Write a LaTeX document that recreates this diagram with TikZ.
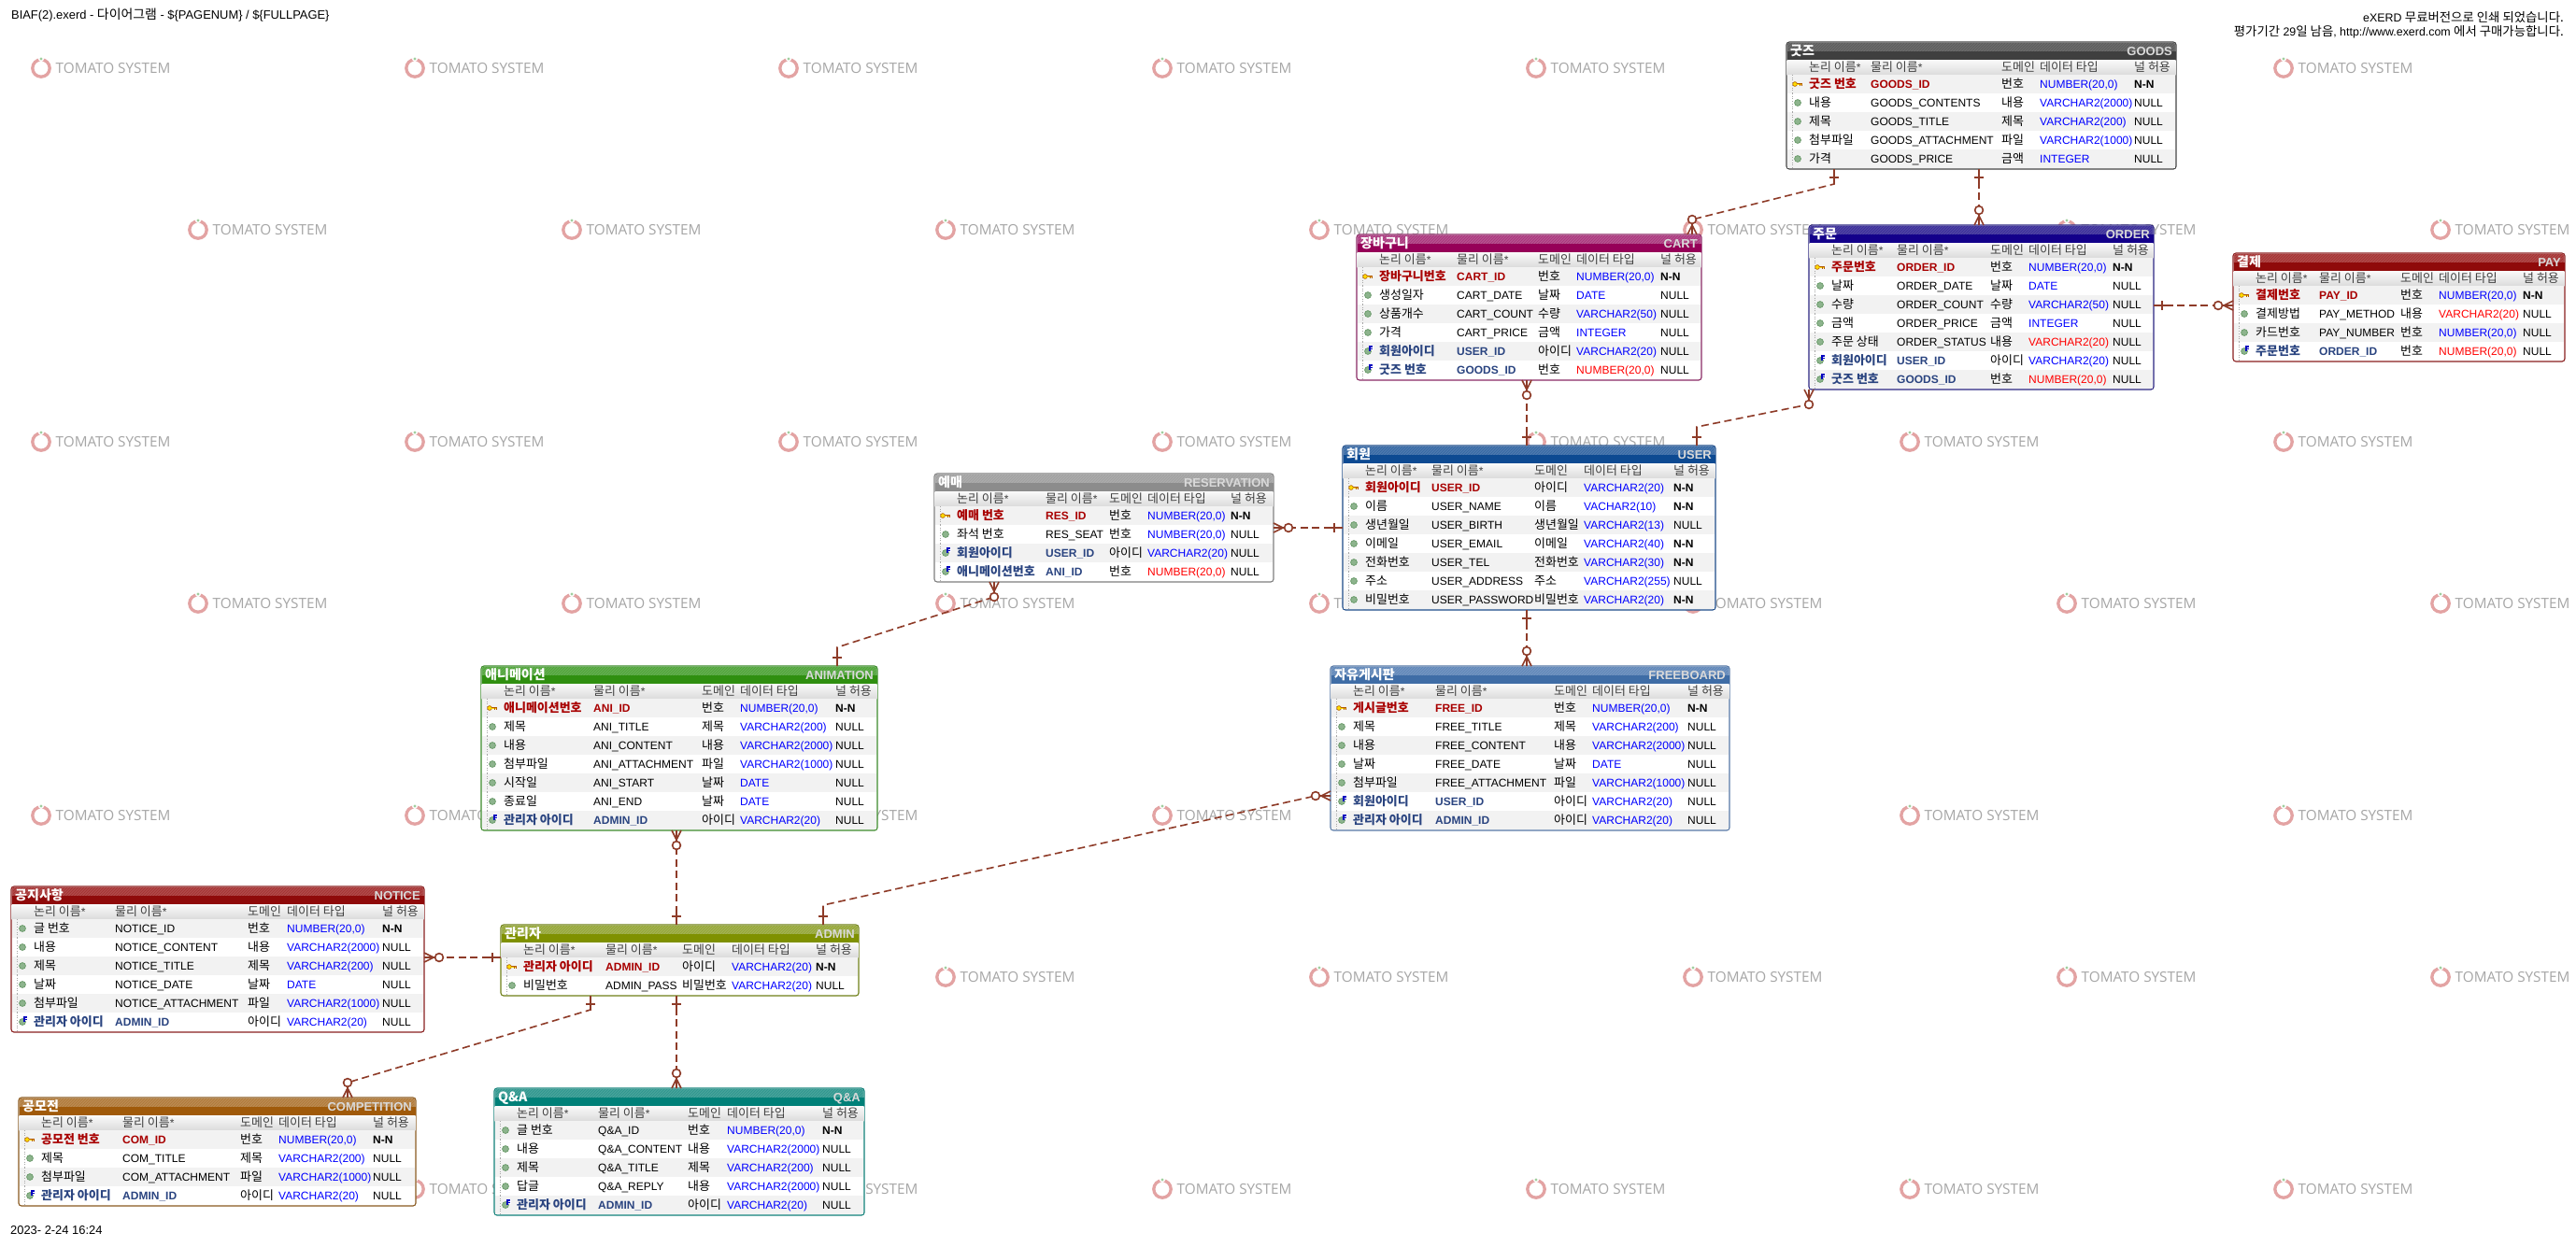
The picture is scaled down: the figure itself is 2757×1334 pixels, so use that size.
\documentclass[tikz,border=0pt]{standalone}
\usepackage{fontspec}
\usetikzlibrary{patterns}
\setmainfont{Liberation Sans}
\newfontfamily\kr[Scale=1.08]{Noto Sans CJK KR}
\newfontfamily\logofont{Open Sans}
\catcode`\_=12

\newcommand{\ercolors}[4]{%
	\definecolor{#1base}{HTML}{#2}\definecolor{#1up}{HTML}{#3}\definecolor{#1line}{HTML}{#4}}
\ercolors{goods}{3F3F3F}{6C6C6C}{444444}
\ercolors{cart}{960058}{B5528F}{8A2A64}
\ercolors{order}{13008A}{4F45A3}{2B2480}
\ercolors{pay}{8F0A0A}{B04A4A}{8A2020}
\ercolors{res}{8C8C8C}{ACACAC}{7E7E7E}
\ercolors{user}{0D4A92}{4C79AE}{1C4A88}
\ercolors{ani}{2F8F10}{62AE50}{3B8A2A}
\ercolors{free}{3F6DA6}{7295C1}{5577A5}
\ercolors{notice}{8F0A0A}{B04A4A}{8A2020}
\ercolors{admin}{7F9100}{A2B252}{6F8018}
\ercolors{comp}{A05A0A}{BA8A52}{8A5A20}
\ercolors{qna}{008078}{48A39B}{108078}
\definecolor{relcolor}{HTML}{8E3B28}
\definecolor{keyred}{HTML}{A80000}
\definecolor{fkblue}{HTML}{2A4480}
\definecolor{ballfill}{HTML}{8DB48D}
\definecolor{balledge}{HTML}{6C9C6C}
\definecolor{ringred}{HTML}{E3A3A3}
\definecolor{ringgreen}{HTML}{9FCF9F}
\definecolor{marktext}{HTML}{A6A6A6}

\tikzset{
	entitybox/.style={rectangle, anchor=north west, inner sep=0, outer sep=0, fill=white, line width=1.1pt, rounded corners=3pt},
	cellat/.style={anchor=base west, inner sep=0, text=black, font=\fontsize{12}{14}\selectfont},
	cellpk/.style={anchor=base west, inner sep=0, text=keyred, font=\fontsize{12}{14}\selectfont\bfseries},
	cellfk/.style={anchor=base west, inner sep=0, text=fkblue, font=\fontsize{12}{14}\selectfont\bfseries},
	celltype/.style={cellat, text=blue},
	cellhead/.style={cellat, text=black!75},
	titleleft/.style={anchor=base west, inner sep=0, text=white, font=\fontsize{13}{15}\selectfont\bfseries},
	titleright/.style={anchor=base east, inner sep=0, text=white!85!black, font=\fontsize{13}{15}\selectfont\bfseries},
	pagetext/.style={inner sep=0, text=black, font=\fontsize{12.9}{15}\selectfont},
	evaltext/.style={pagetext, anchor=base east, font=\fontsize{12.4}{15}\selectfont},
	relline/.style={relcolor, line width=1.6pt, dash pattern=on 8pt off 4.5pt},
	relsolid/.style={relcolor, line width=1.6pt},
	iconat/.pic={\draw[fill=ballfill, draw=balledge, line width=.8pt] (0,0) circle (3.4);},
	iconfk/.pic={
		\draw[fill=ballfill, draw=balledge, line width=.8pt] (0,0) circle (3.4);
		\fill[white] (.6,-.6) rectangle (5.5,-6);
		\draw[blue!75!black, line width=1.1pt] (2,-.4) -- (2,-5) -- (5.2,-5) (2,-2.8) -- (4.6,-2.8);},
	iconpk/.pic={
		\draw[fill=yellow!80!orange, draw=orange!70!black, line width=.6pt] (-3,0) circle (2.4);
		\draw[orange!70!black, line width=1.7pt] (-.6,0) -- (5.4,0);
		\draw[yellow!80!orange, line width=.8pt] (-.6,0) -- (5.2,0);
		\draw[orange!70!black, line width=.8pt] (2.5,0) -- (2.5,1.9) (4.6,0) -- (4.6,1.9);},
	onemark/.pic={
		\draw[relsolid] (0,0) -- (16,0);
		\draw[relsolid] (9,-5) -- (9,5);},
	manymark/.pic={
		\draw[relsolid] (0,-5) -- (10,0) -- (0,5) (0,0) -- (11.5,0);
		\draw[relsolid, fill=white] (16,0) circle (4.4);},
	tomato/.pic={
		\draw[ringred, line width=3.3pt] (0,0) circle (9.2);
		\fill[white] (0,-10) circle (3);
		\fill[ringgreen] (0,-10) circle (1.7);
		\node[anchor=west, inner sep=0, text=marktext, font=\logofont\fontsize{15.3}{17}\selectfont] (-label) at (15.5,.4) {TOMATO SYSTEM};},
}

\newcounter{rowno}
\newcommand{\erdcols}[4]{\def\colP{#1}\def\colD{#2}\def\colT{#3}\def\colN{#4}}
% name, left, top, width, rows, korean title, table name
\newcommand{\erdbox}[7]{
	\def\ename{#1}\def\ex{#2}\def\ey{#3}\def\ew{#4}
	\setcounter{rowno}{0}
	\pgfmathsetmacro\eh{36+20*#5}
	\node[entitybox, draw=#1line, minimum width=#4pt, minimum height=\eh pt] (#1) at (#2,#3) {};
	\fill[#1up, rounded corners=3pt] (\ex+.5,\ey+.5) rectangle (\ex+\ew-.5,\ey+14);
	\fill[pattern=north east lines, pattern color=#1base, opacity=.4] (\ex+2,\ey+1) rectangle (\ex+\ew-2,\ey+10);
	\fill[#1base] (\ex+.5,\ey+9.5) rectangle (\ex+\ew-.5,\ey+19);
	\shade[top color=black!2, bottom color=black!14] (\ex+.6,\ey+19) rectangle (\ex+\ew-.6,\ey+35);
	\node[titleleft] (#1kor) at (\ex+4,\ey+14.6) {\kr #6};
	\node[titleright] (#1eng) at (\ex+\ew-4,\ey+14.6) {#7};
	\node[cellhead] (#1hl) at (\ex+24,\ey+31) {{\kr 논리 이름}*};
	\node[cellhead] (#1hp) at (\ex+\colP,\ey+31) {{\kr 물리 이름}*};
	\node[cellhead] (#1hd) at (\ex+\colD,\ey+31) {\kr 도메인};
	\node[cellhead] (#1ht) at (\ex+\colT,\ey+31) {\kr 데이터 타입};
	\node[cellhead] (#1hn) at (\ex+\colN,\ey+31) {\kr 널 허용};
}
% kind (pk, fk, at), logical name, physical name, domain, type, null
\newcommand{\erdrow}[6]{
	\pgfmathsetmacro\rowtop{\ey+35+20*\the\value{rowno}}
	\ifodd\value{rowno}\else
		\fill[black!5] (\ex+.6,\rowtop) rectangle (\ex+\ew-.6,\rowtop+20);
	\fi
	\draw[black!35, dotted, line width=.7pt] (\ex+6,\rowtop) -- (\ex+6,\rowtop+20);
	\pic at (\ex+12,\rowtop+10) {icon#1};
	\node[cell#1] (\ename l\arabic{rowno}) at (\ex+24,\rowtop+14.3) {\kr #2};
	\node[cell#1] (\ename p\arabic{rowno}) at (\ex+\colP,\rowtop+14.3) {#3};
	\node[cellat] (\ename d\arabic{rowno}) at (\ex+\colD,\rowtop+14.3) {\kr #4};
	\node[celltype] (\ename t\arabic{rowno}) at (\ex+\colT,\rowtop+14.3) {#5};
	\node[cellat] (\ename n\arabic{rowno}) at (\ex+\colN,\rowtop+14.3) {#6};
	\stepcounter{rowno}
}
\newcommand{\rd}[1]{\textcolor{red}{#1}}
\newcommand{\nn}{\textbf{N-N}}

\begin{document}
\begin{tikzpicture}[x=1pt, y=-1pt]
	\useasboundingbox (0,0) rectangle (2757,1334);
	\fill[white] (0,0) rectangle (2757,1334);
	\foreach \my in {73,473,873,1273}
		\foreach \mx in {44,444,...,2444}
			\pic (mark\mx-\my) at (\mx,\my) {tomato};
	\foreach \my in {246,646,1046}
		\foreach \mx in {212,612,...,2612}
			\pic (mark\mx-\my) at (\mx,\my) {tomato};

	\node[pagetext, anchor=base west] (filetitle) at (12,20) {BIAF(2).exerd - {\kr 다이어그램} - \$\{PAGENUM\} / \$\{FULLPAGE\}};
	\node[evaltext] (evalone) at (2744,23) {eXERD {\kr 무료버전으로 인쇄 되었습니다.}};
	\node[evaltext] (evaltwo) at (2744,38) {{\kr 평가기간} 29{\kr 일 남음}, http://www.exerd.com {\kr 에서 구매가능합니다.}};
	\node[pagetext, anchor=base west] (printdate) at (11,1321) {2023- 2-24 16:24};

	\erdcols{90}{230}{271}{372}
	\erdbox{goods}{1912}{45}{417}{5}{굿즈}{GOODS}
	\erdrow{pk}{굿즈 번호}{GOODS_ID}{번호}{NUMBER(20,0)}{\nn}
	\erdrow{at}{내용}{GOODS_CONTENTS}{내용}{VARCHAR2(2000)}{NULL}
	\erdrow{at}{제목}{GOODS_TITLE}{제목}{VARCHAR2(200)}{NULL}
	\erdrow{at}{첨부파일}{GOODS_ATTACHMENT}{파일}{VARCHAR2(1000)}{NULL}
	\erdrow{at}{가격}{GOODS_PRICE}{금액}{INTEGER}{NULL}

	\erdcols{107}{194}{235}{325}
	\erdbox{cart}{1452}{251}{369}{6}{장바구니}{CART}
	\erdrow{pk}{장바구니번호}{CART_ID}{번호}{NUMBER(20,0)}{\nn}
	\erdrow{at}{생성일자}{CART_DATE}{날짜}{DATE}{NULL}
	\erdrow{at}{상품개수}{CART_COUNT}{수량}{VARCHAR2(50)}{NULL}
	\erdrow{at}{가격}{CART_PRICE}{금액}{INTEGER}{NULL}
	\erdrow{fk}{회원아이디}{USER_ID}{아이디}{VARCHAR2(20)}{NULL}
	\erdrow{fk}{굿즈 번호}{GOODS_ID}{번호}{\rd{NUMBER(20,0)}}{NULL}

	\erdcols{94}{194}{235}{325}
	\erdbox{order}{1936}{241}{369}{7}{주문}{ORDER}
	\erdrow{pk}{주문번호}{ORDER_ID}{번호}{NUMBER(20,0)}{\nn}
	\erdrow{at}{날짜}{ORDER_DATE}{날짜}{DATE}{NULL}
	\erdrow{at}{수량}{ORDER_COUNT}{수량}{VARCHAR2(50)}{NULL}
	\erdrow{at}{금액}{ORDER_PRICE}{금액}{INTEGER}{NULL}
	\erdrow{at}{주문 상태}{ORDER_STATUS}{내용}{\rd{VARCHAR2(20)}}{NULL}
	\erdrow{fk}{회원아이디}{USER_ID}{아이디}{VARCHAR2(20)}{NULL}
	\erdrow{fk}{굿즈 번호}{GOODS_ID}{번호}{\rd{NUMBER(20,0)}}{NULL}

	\erdcols{92}{179}{220}{310}
	\erdbox{pay}{2390}{271}{355}{4}{결제}{PAY}
	\erdrow{pk}{결제번호}{PAY_ID}{번호}{NUMBER(20,0)}{\nn}
	\erdrow{at}{결제방법}{PAY_METHOD}{내용}{\rd{VARCHAR2(20)}}{NULL}
	\erdrow{at}{카드번호}{PAY_NUMBER}{번호}{NUMBER(20,0)}{NULL}
	\erdrow{fk}{주문번호}{ORDER_ID}{번호}{\rd{NUMBER(20,0)}}{NULL}

	\erdcols{119}{187}{228}{317}
	\erdbox{res}{1000}{507}{363}{4}{예매}{RESERVATION}
	\erdrow{pk}{예매 번호}{RES_ID}{번호}{NUMBER(20,0)}{\nn}
	\erdrow{at}{좌석 번호}{RES_SEAT}{번호}{NUMBER(20,0)}{NULL}
	\erdrow{fk}{회원아이디}{USER_ID}{아이디}{VARCHAR2(20)}{NULL}
	\erdrow{fk}{애니메이션번호}{ANI_ID}{번호}{\rd{NUMBER(20,0)}}{NULL}

	\erdcols{95}{205}{258}{354}
	\erdbox{user}{1437}{477}{399}{7}{회원}{USER}
	\erdrow{pk}{회원아이디}{USER_ID}{아이디}{VARCHAR2(20)}{\nn}
	\erdrow{at}{이름}{USER_NAME}{이름}{VACHAR2(10)}{\nn}
	\erdrow{at}{생년월일}{USER_BIRTH}{생년월일}{VARCHAR2(13)}{NULL}
	\erdrow{at}{이메일}{USER_EMAIL}{이메일}{VARCHAR2(40)}{\nn}
	\erdrow{at}{전화번호}{USER_TEL}{전화번호}{VARCHAR2(30)}{\nn}
	\erdrow{at}{주소}{USER_ADDRESS}{주소}{VARCHAR2(255)}{NULL}
	\erdrow{at}{비밀번호}{USER_PASSWORD}{비밀번호}{VARCHAR2(20)}{\nn}

	\erdcols{120}{236}{277}{379}
	\erdbox{ani}{515}{713}{424}{7}{애니메이션}{ANIMATION}
	\erdrow{pk}{애니메이션번호}{ANI_ID}{번호}{NUMBER(20,0)}{\nn}
	\erdrow{at}{제목}{ANI_TITLE}{제목}{VARCHAR2(200)}{NULL}
	\erdrow{at}{내용}{ANI_CONTENT}{내용}{VARCHAR2(2000)}{NULL}
	\erdrow{at}{첨부파일}{ANI_ATTACHMENT}{파일}{VARCHAR2(1000)}{NULL}
	\erdrow{at}{시작일}{ANI_START}{날짜}{DATE}{NULL}
	\erdrow{at}{종료일}{ANI_END}{날짜}{DATE}{NULL}
	\erdrow{fk}{관리자 아이디}{ADMIN_ID}{아이디}{VARCHAR2(20)}{NULL}

	\erdcols{112}{239}{280}{382}
	\erdbox{free}{1424}{713}{427}{7}{자유게시판}{FREEBOARD}
	\erdrow{pk}{게시글번호}{FREE_ID}{번호}{NUMBER(20,0)}{\nn}
	\erdrow{at}{제목}{FREE_TITLE}{제목}{VARCHAR2(200)}{NULL}
	\erdrow{at}{내용}{FREE_CONTENT}{내용}{VARCHAR2(2000)}{NULL}
	\erdrow{at}{날짜}{FREE_DATE}{날짜}{DATE}{NULL}
	\erdrow{at}{첨부파일}{FREE_ATTACHMENT}{파일}{VARCHAR2(1000)}{NULL}
	\erdrow{fk}{회원아이디}{USER_ID}{아이디}{VARCHAR2(20)}{NULL}
	\erdrow{fk}{관리자 아이디}{ADMIN_ID}{아이디}{VARCHAR2(20)}{NULL}

	\erdcols{111}{253}{295}{397}
	\erdbox{notice}{12}{949}{442}{6}{공지사항}{NOTICE}
	\erdrow{at}{글 번호}{NOTICE_ID}{번호}{NUMBER(20,0)}{\nn}
	\erdrow{at}{내용}{NOTICE_CONTENT}{내용}{VARCHAR2(2000)}{NULL}
	\erdrow{at}{제목}{NOTICE_TITLE}{제목}{VARCHAR2(200)}{NULL}
	\erdrow{at}{날짜}{NOTICE_DATE}{날짜}{DATE}{NULL}
	\erdrow{at}{첨부파일}{NOTICE_ATTACHMENT}{파일}{VARCHAR2(1000)}{NULL}
	\erdrow{fk}{관리자 아이디}{ADMIN_ID}{아이디}{VARCHAR2(20)}{NULL}

	\erdcols{112}{194}{247}{337}
	\erdbox{admin}{536}{990}{383}{2}{관리자}{ADMIN}
	\erdrow{pk}{관리자 아이디}{ADMIN_ID}{아이디}{VARCHAR2(20)}{\nn}
	\erdrow{at}{비밀번호}{ADMIN_PASS}{비밀번호}{VARCHAR2(20)}{NULL}

	\erdcols{111}{237}{278}{379}
	\erdbox{comp}{20}{1175}{425}{4}{공모전}{COMPETITION}
	\erdrow{pk}{공모전 번호}{COM_ID}{번호}{NUMBER(20,0)}{\nn}
	\erdrow{at}{제목}{COM_TITLE}{제목}{VARCHAR2(200)}{NULL}
	\erdrow{at}{첨부파일}{COM_ATTACHMENT}{파일}{VARCHAR2(1000)}{NULL}
	\erdrow{fk}{관리자 아이디}{ADMIN_ID}{아이디}{VARCHAR2(20)}{NULL}

	\erdcols{111}{207}{249}{351}
	\erdbox{qna}{529}{1165}{396}{5}{Q\&A}{Q\&A}
	\erdrow{at}{글 번호}{Q\&A_ID}{번호}{NUMBER(20,0)}{\nn}
	\erdrow{at}{내용}{Q\&A_CONTENT}{내용}{VARCHAR2(2000)}{NULL}
	\erdrow{at}{제목}{Q\&A_TITLE}{제목}{VARCHAR2(200)}{NULL}
	\erdrow{at}{답글}{Q\&A_REPLY}{내용}{VARCHAR2(2000)}{NULL}
	\erdrow{fk}{관리자 아이디}{ADMIN_ID}{아이디}{VARCHAR2(20)}{NULL}

	% relations
	\draw[relline] ([xshift=51]goods.south west) -- ++(0,16) -- ([xshift=359,yshift=16]cart.north west);
	\pic[rotate=-90] at ([xshift=51]goods.south west) {onemark};
	\pic[rotate=90] at ([xshift=359]cart.north west) {manymark};

	\draw[relline] ([xshift=206]goods.south west) -- ([xshift=182]order.north west);
	\pic[rotate=-90] at ([xshift=206]goods.south west) {onemark};
	\pic[rotate=90] at ([xshift=182]order.north west) {manymark};

	\draw[relline] ([xshift=197]user.north west) -- ([xshift=182]cart.south west);
	\pic[rotate=90] at ([xshift=197]user.north west) {onemark};
	\pic[rotate=-90] at ([xshift=182]cart.south west) {manymark};

	\draw[relline] ([xshift=379]user.north west) -- ++(0,-20) -- ([yshift=-16]order.south west);
	\pic[rotate=90] at ([xshift=379]user.north west) {onemark};
	\pic[rotate=-90] at (order.south west) {manymark};

	\draw[relline] ([yshift=-86]order.north east) -- ([yshift=-56]pay.north west);
	\pic at ([yshift=-86]order.north east) {onemark};
	\pic[rotate=180] at ([yshift=-56]pay.north west) {manymark};

	\draw[relline] ([yshift=-88]user.north west) -- ([yshift=-58]res.north east);
	\pic[rotate=180] at ([yshift=-88]user.north west) {onemark};
	\pic at ([yshift=-58]res.north east) {manymark};

	\draw[relline] ([xshift=381]ani.north west) -- ++(0,-20) -- ([xshift=64,yshift=-16]res.south west);
	\pic[rotate=90] at ([xshift=381]ani.north west) {onemark};
	\pic[rotate=-90] at ([xshift=64]res.south west) {manymark};

	\draw[relline] ([xshift=197]user.south west) -- ([xshift=210]free.north west);
	\pic[rotate=-90] at ([xshift=197]user.south west) {onemark};
	\pic[rotate=90] at ([xshift=210]free.north west) {manymark};

	\draw[relline] ([xshift=188]admin.north west) -- ([xshift=209]ani.south west);
	\pic[rotate=90] at ([xshift=188]admin.north west) {onemark};
	\pic[rotate=-90] at ([xshift=209]ani.south west) {manymark};

	\draw[relline] ([xshift=345]admin.north west) -- ++(0,-21) -- ([xshift=-16,yshift=-139]free.north west);
	\pic[rotate=90] at ([xshift=345]admin.north west) {onemark};
	\pic[rotate=180] at ([yshift=-139]free.north west) {manymark};

	\draw[relline] ([yshift=-35]admin.north west) -- ([yshift=-76]notice.north east);
	\pic[rotate=180] at ([yshift=-35]admin.north west) {onemark};
	\pic at ([yshift=-76]notice.north east) {manymark};

	\draw[relline] ([xshift=96]admin.south west) -- ++(0,15) -- ([xshift=352,yshift=16]comp.north west);
	\pic[rotate=-90] at ([xshift=96]admin.south west) {onemark};
	\pic[rotate=90] at ([xshift=352]comp.north west) {manymark};

	\draw[relline] ([xshift=188]admin.south west) -- ([xshift=195]qna.north west);
	\pic[rotate=-90] at ([xshift=188]admin.south west) {onemark};
	\pic[rotate=90] at ([xshift=195]qna.north west) {manymark};
\end{tikzpicture}
\end{document}
